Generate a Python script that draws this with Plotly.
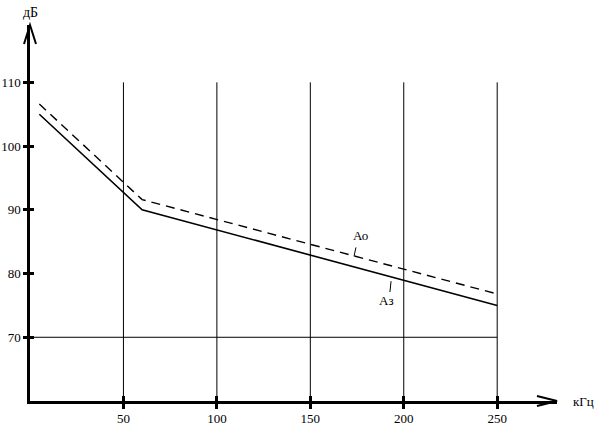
import plotly.graph_objects as go

# данные
freq_a3 = [5, 60, 250]
level_a3 = [105.0, 90.0, 75.0]
freq_a0 = [5, 60, 250]
level_a0 = [106.6, 91.6, 76.8]

x_ticks = [50, 100, 150, 200, 250]
y_ticks = [70, 80, 90, 100, 110]
grid_top = 110
ref_level = 70

lbl_a0 = dict(text="Ао", x=176.6, y=86.0, lead_x=[174.4, 173.4], lead_y=[84.1, 82.7])
lbl_a3 = dict(text="Аз", x=190.5, y=75.8, lead_x=[192.6, 193.2], lead_y=[77.1, 78.8])

FONT = "Liberation Serif"

gx, gy = [], []
for v in x_ticks:
    gx += [v, v, None]
    gy += [60, grid_top, None]
gx += [0, x_ticks[-1]]
gy += [ref_level, ref_level]

fig = go.Figure()
fig.add_trace(go.Scatter(x=gx, y=gy, mode="lines", line=dict(color="black", width=1),
                         hoverinfo="skip", showlegend=False))
fig.add_trace(go.Scatter(x=freq_a3, y=level_a3, mode="lines", line=dict(color="black", width=1.6),
                         name="Аз", showlegend=False))
fig.add_trace(go.Scatter(x=freq_a0, y=level_a0, mode="lines",
                         line=dict(color="black", width=1.4, dash="9px,6px"),
                         name="Ао", showlegend=False))
for lb in (lbl_a0, lbl_a3):
    fig.add_trace(go.Scatter(x=lb["lead_x"], y=lb["lead_y"], mode="lines",
                             line=dict(color="black", width=1), showlegend=False, hoverinfo="skip"))
    fig.add_annotation(x=lb["x"], y=lb["y"], text=lb["text"], showarrow=False,
                       font=dict(family=FONT, size=13, color="black"))

# стрелки осей (открытые, как на чертеже)
fig.add_shape(type="path", xref="paper", yref="paper", xsizemode="pixel", ysizemode="pixel",
              xanchor=1, yanchor=0, path="M-20,5 L0,0 L-20,-5",
              line=dict(color="black", width=2))
fig.add_shape(type="path", xref="paper", yref="paper", xsizemode="pixel", ysizemode="pixel",
              xanchor=0, yanchor=1, path="M-6,-19 L0,0 L6,-19",
              line=dict(color="black", width=2))

fig.add_annotation(x=0, y=1, xref="paper", yref="paper", yshift=13, text="дБ",
                   showarrow=False, xanchor="center", yanchor="middle",
                   font=dict(family=FONT, size=14, color="black"))
fig.add_annotation(x=1, y=0, xref="paper", yref="paper", xshift=14, text="кГц",
                   showarrow=False, xanchor="left", yanchor="middle",
                   font=dict(family=FONT, size=13, color="black"))

axis_common = dict(showgrid=False, zeroline=False, showline=True, linecolor="black",
                   linewidth=2.5, ticks="outside", tickcolor="black", tickwidth=2.5,
                   tickfont=dict(family=FONT, size=13, color="black"), automargin=False)
fig.update_xaxes(range=[0, 282], tickvals=x_ticks, ticklen=5, ticklabelstandoff=-1,
                 minor=dict(ticks="inside", tickvals=x_ticks, ticklen=5, tickwidth=2.5,
                            tickcolor="black", showgrid=False),
                 **axis_common)
fig.update_yaxes(range=[60, 119], tickvals=y_ticks, ticklen=4,
                 minor=dict(ticks="inside", tickvals=y_ticks, ticklen=4, tickwidth=2.5,
                            tickcolor="black", showgrid=False),
                 **axis_common)
fig.update_layout(width=597, height=425, margin=dict(l=30, r=40, t=25, b=24),
                  plot_bgcolor="white", paper_bgcolor="white",
                  font=dict(family=FONT, color="black"))
fig.write_html("out.html", config={"displayModeBar": False},
               post_script="document.body.style.margin='0';")
